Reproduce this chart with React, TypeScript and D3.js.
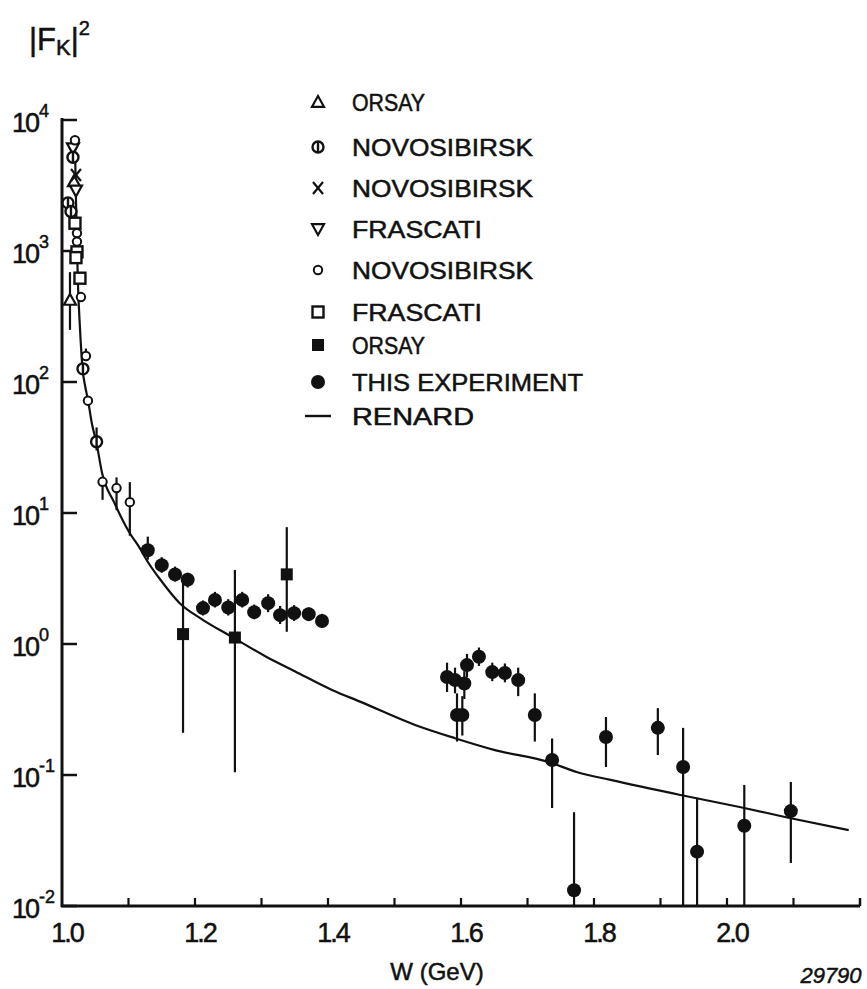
import React from "react";
import * as d3 from "d3";

// ---------- data ----------
const renardW = [1.0195, 1.021, 1.0225, 1.024, 1.027, 1.031, 1.035, 1.039, 1.045, 1.052, 1.06, 1.079, 1.102, 1.117, 1.127, 1.15, 1.177, 1.21, 1.256, 1.307, 1.35, 1.406, 1.45, 1.531, 1.591, 1.651, 1.731, 1.775, 1.825, 1.93, 2.019, 2.094, 2.183];
const renardF = [6500, 2500, 1100, 560, 260, 125, 92, 73, 48, 34, 20.5, 11.9, 7.0, 5.4, 4.4, 3.0, 2.05, 1.55, 1.13, 0.8, 0.62, 0.446, 0.36, 0.241, 0.191, 0.155, 0.126, 0.105, 0.0917, 0.0704, 0.057, 0.047, 0.038];

const thisExpW = [1.129, 1.15, 1.17, 1.189, 1.212, 1.23, 1.25, 1.271, 1.289, 1.31, 1.328, 1.349, 1.371, 1.391, 1.579, 1.591, 1.594, 1.602, 1.605, 1.609, 1.627, 1.647, 1.666, 1.686, 1.711, 1.737, 1.77, 1.818, 1.896, 1.934, 1.955, 2.026, 2.096];
const thisExpF = [5.2, 4.0, 3.4, 3.1, 1.88, 2.17, 1.9, 2.17, 1.75, 2.05, 1.66, 1.72, 1.69, 1.5, 0.56, 0.53, 0.287, 0.287, 0.5, 0.69, 0.8, 0.61, 0.6, 0.53, 0.287, 0.13, 0.0132, 0.195, 0.229, 0.115, 0.026, 0.041, 0.053];
const thisExpLo = [4.4, 3.5, 3.0, 2.7, 1.65, 1.9, 1.65, 1.9, 1.55, 1.75, 1.42, 1.5, 1.5, 1.33, 0.43, 0.42, 0.18, 0.2, 0.38, 0.56, 0.68, 0.52, 0.51, 0.4, 0.18, 0.056, 0.001, 0.115, 0.142, 0.001, 0.001, 0.001, 0.0213];
const thisExpHi = [6.6, 4.6, 3.9, 3.5, 2.15, 2.5, 2.2, 2.5, 2.0, 2.4, 1.95, 1.98, 1.9, 1.7, 0.72, 0.66, 0.42, 0.4, 0.62, 0.84, 0.94, 0.72, 0.71, 0.66, 0.42, 0.19, 0.052, 0.277, 0.324, 0.229, 0.067, 0.084, 0.0885];

const orsaySqW = [1.182, 1.26, 1.338];
const orsaySqF = [1.19, 1.12, 3.4];
const orsaySqLo = [0.21, 0.105, 1.24];
const orsaySqHi = [3.2, 3.67, 7.8];

const orsayTriW = [1.018, 1.012];
const orsayTriF = [3400, 423];
const orsayTriLo = [3400, 250];
const orsayTriHi = [3400, 690];

const novoPhiW = [1.0165, 1.009, 1.0135, 1.0315, 1.052];
const novoPhiF = [5200, 2330, 2000, 126, 35];
const novoPhiLo = [5200, 2330, 2000, 118, 30];
const novoPhiHi = [5200, 2330, 2000, 134, 45];

const novoXW = [1.021];
const novoXF = [3800];

const frascatiTriW = [1.0165, 1.021];
const frascatiTriF = [6100, 2900];

const novoCircW = [1.0195, 1.0225, 1.0225, 1.0285, 1.036, 1.039, 1.061, 1.082, 1.102];
const novoCircF = [7000, 1370, 1180, 445, 158, 72, 17.3, 15.5, 12.1];
const novoCircLo = [7000, 1370, 1180, 445, 150, 72, 12.6, 10.5, 6.7];
const novoCircHi = [7000, 1370, 1180, 445, 180, 72, 17.3, 18.7, 17.2];

const frascatiSqW = [1.0195, 1.0225, 1.021, 1.027];
const frascatiSqF = [1630, 985, 890, 620];

const xTickValues = [1.1, 1.2, 1.3, 1.4, 1.5, 1.6, 1.7, 1.8, 1.9, 2.0, 2.1];
const xTickLabels = ["1.0", "1.2", "1.4", "1.6", "1.8", "2.0"];
const yTickExponents = [4, 3, 2, 1, 0, -1, -2];

const legendLabels = ["ORSAY", "NOVOSIBIRSK", "NOVOSIBIRSK", "FRASCATI", "NOVOSIBIRSK", "FRASCATI", "ORSAY", "THIS EXPERIMENT", "RENARD"];
const legendSymbols = ["triUp", "phi", "x", "triDown", "circle", "square", "filledSquare", "dot", "line"];

// ---------- layout ----------
const W = 867, H = 989;
const x = d3.scaleLinear().domain([1.0, 2.2]).range([62, 860]);
const y = d3.scaleLog().domain([1e-2, 1e4]).range([906, 120]);
const yBottom = y(1e-2);
const FONT = "'Liberation Sans', Arial, sans-serif";
const INK = "#111";

function clampY(v: number) {
  return Math.min(yBottom, y(Math.max(v, 1e-2)));
}

function Marker({ type, cx, cy }: { type: string; cx: number; cy: number }) {
  switch (type) {
    case "triUp": {
      const s = 6;
      return <path d={`M${cx},${cy - s} L${cx + s},${cy + s * 0.8} L${cx - s},${cy + s * 0.8} Z`} fill="white" stroke={INK} strokeWidth={2.2} />;
    }
    case "triDown": {
      const s = 6;
      return <path d={`M${cx},${cy + s} L${cx + s},${cy - s * 0.8} L${cx - s},${cy - s * 0.8} Z`} fill="white" stroke={INK} strokeWidth={2.2} />;
    }
    case "phi":
      return (
        <g>
          <circle cx={cx} cy={cy} r={5.5} fill="white" stroke={INK} strokeWidth={2.4} />
          <line x1={cx} x2={cx} y1={cy - 5.5} y2={cy + 5.5} stroke={INK} strokeWidth={2.4} />
        </g>
      );
    case "x":
      return (
        <g stroke={INK} strokeWidth={2.2}>
          <line x1={cx - 5} x2={cx + 5} y1={cy - 6} y2={cy + 6} />
          <line x1={cx + 5} x2={cx - 5} y1={cy - 6} y2={cy + 6} />
        </g>
      );
    case "circle":
      return <circle cx={cx} cy={cy} r={4.2} fill="white" stroke={INK} strokeWidth={2} />;
    case "square":
      return <rect x={cx - 5.5} y={cy - 5.5} width={11} height={11} fill="white" stroke={INK} strokeWidth={2.4} />;
    case "filledSquare":
      return <rect x={cx - 6} y={cy - 6} width={12} height={12} fill={INK} />;
    case "dot":
      return <circle cx={cx} cy={cy} r={7} fill={INK} />;
    case "line":
      return <line x1={cx - 13} x2={cx + 13} y1={cy} y2={cy} stroke={INK} strokeWidth={2.4} />;
    default:
      return null;
  }
}

function Series({ ws, fs, lo, hi, type }: { ws: number[]; fs: number[]; lo?: number[]; hi?: number[]; type: string }) {
  return (
    <g>
      {ws.map((w, i) => (
        <g key={i}>
          {lo && hi && (lo[i] < fs[i] || hi[i] > fs[i]) && (
            <line x1={x(w)} x2={x(w)} y1={clampY(lo[i])} y2={clampY(hi[i])} stroke={INK} strokeWidth={2.2} />
          )}
          <Marker type={type} cx={x(w)} cy={y(fs[i])} />
        </g>
      ))}
    </g>
  );
}

export default function App() {
  const lineGen = d3
    .line<number>()
    .x((_, i) => x(renardW[i]))
    .y((d) => y(d))
    .curve(d3.curveMonotoneX);
  const curvePath = lineGen(renardF) || "";

  const legendX = 318;
  const legendRowsY = [102, 147, 188, 229, 270, 312, 345, 382, 416];
  const legendTextWidths = [73, 181, 181, 130, 181, 130, 73, 231, 122];
  const textStyle = { stroke: INK, strokeWidth: 0.5 };

  return (
    <svg width={W} height={H} viewBox={`0 0 ${W} ${H}`} style={{ display: "block", position: "absolute", left: 0, top: 0, background: "white" }}>
      <rect width={W} height={H} fill="white" />
      {/* y-axis title */}
      <text x={29} y={50} fontFamily={FONT} fontSize={31} fill={INK} style={textStyle}>
        <tspan>|F</tspan>
        <tspan fontSize={22} dy={5}>K</tspan>
        <tspan dy={-5}>|</tspan>
        <tspan fontSize={20} dy={-15}>2</tspan>
      </text>

      {/* axes */}
      <line x1={x(1.0)} x2={x(1.0)} y1={y(1e4) - 2} y2={yBottom + 1} stroke={INK} strokeWidth={3} />
      <line x1={x(1.0) - 1} x2={x(2.2)} y1={yBottom} y2={yBottom} stroke={INK} strokeWidth={3} />
      <line x1={x(2.2)} x2={x(2.2)} y1={yBottom} y2={yBottom - 8} stroke={INK} strokeWidth={2.5} />

      {yTickExponents.map((e) => (
        <g key={e}>
          <line x1={x(1.0)} x2={x(1.0) + 15} y1={y(Math.pow(10, e))} y2={y(Math.pow(10, e))} stroke={INK} strokeWidth={2.5} />
          <text x={38} y={y(Math.pow(10, e)) + 12} textAnchor="end" fontFamily={FONT} fontSize={27} fill={INK} letterSpacing={-2} style={textStyle}>
            10
          </text>
          <text x={39} y={y(Math.pow(10, e)) - 3} fontFamily={FONT} fontSize={18} fill={INK} style={textStyle}>
            {e < 0 ? `-${-e}` : `${e}`}
          </text>
        </g>
      ))}

      {xTickValues.map((t) => (
        <line key={t} x1={x(t)} x2={x(t)} y1={yBottom} y2={yBottom - 8} stroke={INK} strokeWidth={2.2} />
      ))}
      {xTickLabels.map((l) => (
        <text key={l} x={x(+l) + 5} y={942} textAnchor="middle" fontFamily={FONT} fontSize={27} fill={INK} letterSpacing={-2} style={textStyle}>
          {l}
        </text>
      ))}
      <text x={437} y={980} textAnchor="middle" fontFamily={FONT} fontSize={24} fill={INK} style={textStyle}>
        W (GeV)
      </text>
      <text x={831} y={983} textAnchor="middle" fontFamily={FONT} fontSize={22} fill={INK} fontStyle="italic" style={textStyle}>
        29790
      </text>

      {/* curve */}
      <path d={curvePath} fill="none" stroke={INK} strokeWidth={2.2} />

      {/* data */}
      <Series ws={orsayTriW} fs={orsayTriF} lo={orsayTriLo} hi={orsayTriHi} type="triUp" />
      <Series ws={frascatiTriW} fs={frascatiTriF} type="triDown" />
      <Series ws={novoXW} fs={novoXF} type="x" />
      <Series ws={frascatiSqW} fs={frascatiSqF} type="square" />
      <Series ws={novoCircW} fs={novoCircF} lo={novoCircLo} hi={novoCircHi} type="circle" />
      <Series ws={novoPhiW} fs={novoPhiF} lo={novoPhiLo} hi={novoPhiHi} type="phi" />
      <Series ws={orsaySqW} fs={orsaySqF} lo={orsaySqLo} hi={orsaySqHi} type="filledSquare" />
      <Series ws={thisExpW} fs={thisExpF} lo={thisExpLo} hi={thisExpHi} type="dot" />

      {/* legend */}
      {legendLabels.map((lab, i) => (
        <g key={i}>
          <Marker type={legendSymbols[i]} cx={legendX} cy={legendRowsY[i]} />
          <text
            x={352}
            y={legendRowsY[i] + 9}
            fontFamily={FONT}
            fontSize={24}
            fill={INK}
            style={textStyle}
            textLength={legendTextWidths[i]}
            lengthAdjust="spacingAndGlyphs"
          >
            {lab}
          </text>
        </g>
      ))}
    </svg>
  );
}
